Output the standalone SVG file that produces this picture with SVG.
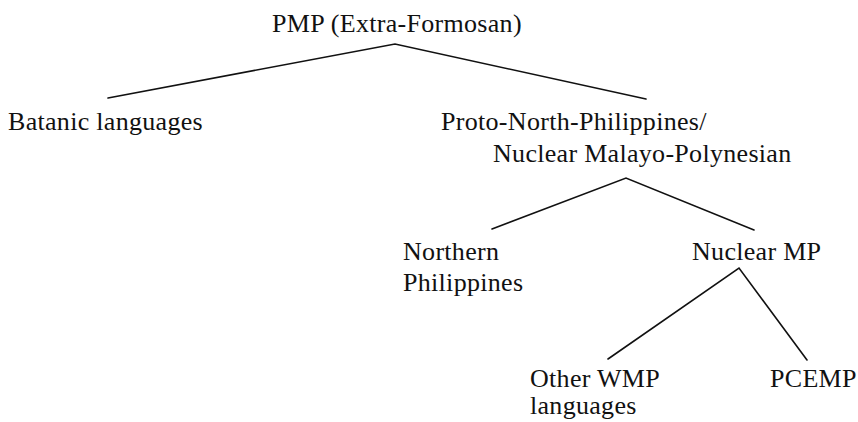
<svg xmlns="http://www.w3.org/2000/svg" width="858" height="422" viewBox="0 0 858 422">
  <style>
    .lbl { font-family: "Liberation Serif", "Times New Roman", serif; font-size: 26px; fill: #111; letter-spacing: 0.3px; }
    .edge { stroke: #111; stroke-width: 1.6; fill: none; stroke-linecap: round; }
  </style>
  <rect width="858" height="422" fill="#fff"/>
  <g id="connectors">
    <polyline class="edge" points="108,98 395,44 646,99"/>
    <polyline class="edge" points="492,229 626,178 754,230"/>
    <polyline class="edge" points="608,359 739,268 807,360"/>
  </g>
  <g id="pmp"><text class="lbl" x="272" y="32">PMP (Extra-Formosan)</text></g>
  <g id="batanic"><text class="lbl" x="8" y="130">Batanic languages</text></g>
  <g id="pnp"><text class="lbl" x="441" y="130">Proto-North-Philippines/</text><text class="lbl" x="493" y="162">Nuclear Malayo-Polynesian</text></g>
  <g id="northern"><text class="lbl" x="403" y="260">Northern</text><text class="lbl" x="403" y="291">Philippines</text></g>
  <g id="nuclear-mp"><text class="lbl" x="692" y="260">Nuclear MP</text></g>
  <g id="other-wmp"><text class="lbl" x="530" y="387">Other WMP</text><text class="lbl" x="530" y="414">languages</text></g>
  <g id="pcemp"><text class="lbl" x="770" y="387">PCEMP</text></g>
</svg>
